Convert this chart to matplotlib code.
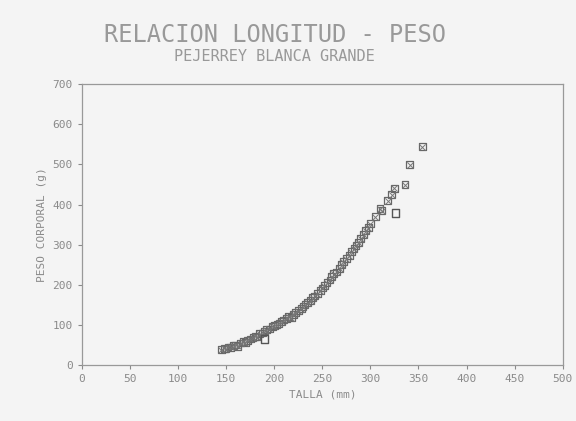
import matplotlib.pyplot as plt

# talla (mm) y peso (g)
talla = [145, 148, 150, 152, 155, 158, 160, 162, 165, 168, 170, 172, 175, 178,
         180, 182, 185, 188, 190, 192, 195, 198, 200, 203, 205, 208, 210, 213,
         215, 218, 220, 222, 225, 228, 230, 232, 235, 238, 240, 242, 245, 248,
         250, 252, 255, 258, 260, 262, 265, 268, 270, 272, 275, 278, 280, 283,
         285, 288, 290, 293, 295, 298, 300, 305, 310, 312, 318, 322, 325, 336,
         341, 354]
peso = [38, 42, 40, 45, 44, 48, 50, 47, 55, 58, 56, 62, 65, 68,
        72, 70, 78, 80, 85, 88, 90, 96, 98, 100, 104, 108, 112, 116,
        120, 118, 126, 130, 135, 140, 145, 150, 155, 160, 168, 172, 178, 185,
        192, 198, 205, 212, 220, 228, 232, 240, 250, 258, 265, 272, 282, 290,
        298, 305, 315, 325, 335, 342, 352, 370, 390, 385, 410, 425, 440, 449,
        499, 544]

# puntos marcados aparte
talla_x = [190, 326]
peso_x = [65, 379]

gris = '#8a8a8a'
fig = plt.figure(figsize=(5.76, 4.21), dpi=100, facecolor='#f4f4f4')
ax = fig.add_axes([0.142, 0.133, 0.835, 0.667])
ax.set_facecolor('#f4f4f4')

ax.scatter(talla, peso, s=24, marker='s', facecolors='none', edgecolors='#666666', linewidths=0.9)
ax.scatter(talla, peso, s=20, marker='x', color='#777777', linewidths=0.7)
ax.scatter(talla_x, peso_x, s=30, marker='s', facecolors='none', edgecolors='#555555', linewidths=1.0)

ax.set_xlim(0, 500)
ax.set_ylim(0, 700)
ax.set_xticks(range(0, 501, 50))
ax.set_yticks(range(0, 701, 100))
ax.tick_params(colors=gris, labelsize=8, length=3)
for lab in ax.get_xticklabels() + ax.get_yticklabels():
    lab.set_family('DejaVu Sans Mono')
for s in ax.spines.values():
    s.set_color('#999999')
    s.set_linewidth(0.9)

ax.set_xlabel('TALLA (mm)', color=gris, fontsize=8, family='DejaVu Sans Mono')
ax.set_ylabel('PESO CORPORAL (g)', color=gris, fontsize=8, family='DejaVu Sans Mono')

fig.text(0.477, 0.917, 'RELACION LONGITUD - PESO', ha='center', va='center',
         color='#999999', fontsize=17, family='DejaVu Sans Mono')
fig.text(0.476, 0.865, 'PEJERREY BLANCA GRANDE', ha='center', va='center',
         color='#999999', fontsize=11, family='DejaVu Sans Mono')

plt.savefig('out.png', dpi=100, facecolor=fig.get_facecolor())
